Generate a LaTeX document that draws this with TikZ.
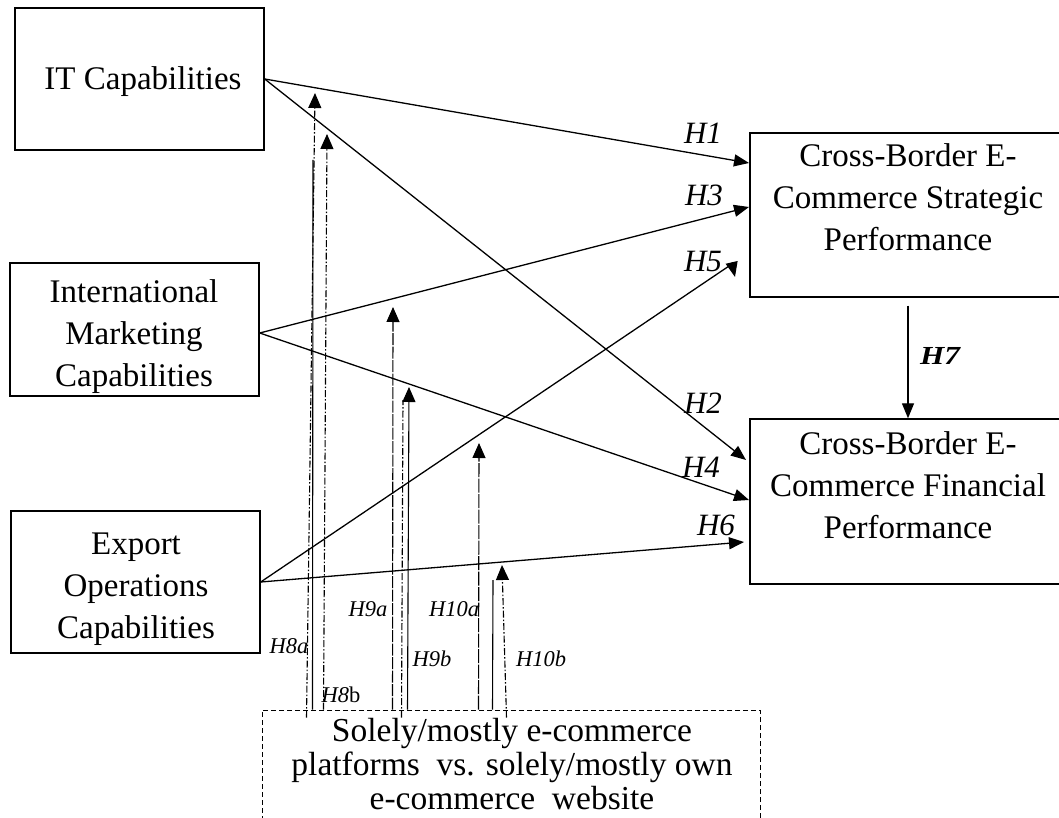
\documentclass[tikz,border=0pt]{standalone}
\usepackage{fontspec}
\setmainfont{Liberation Serif}
\usetikzlibrary{arrows.meta,calc}
\begin{document}
\begin{tikzpicture}[x=1pt,y=-1pt,
  box/.style={draw, line width=1.4pt, inner sep=0pt, minimum width=#1},
  modbox/.style={draw, line width=1pt, dash pattern=on 5pt off 3pt, inner sep=0pt},
  txt/.style={font=\fontsize{33}{42}\selectfont, align=center, inner sep=0pt},
  modtxt/.style={font=\fontsize{33.5}{34}\selectfont, align=center, inner sep=0pt},
  hyp/.style={font=\fontsize{31}{32}\selectfont\itshape, inner sep=0pt},
  mlab/.style={font=\fontsize{22.5}{24}\selectfont\itshape, inner sep=0pt},
  link/.style={line width=1.3pt, -{Triangle[length=15pt,width=12pt]}},
  dashdot/.style={line width=1.1pt, dash pattern=on 7pt off 2pt on 1.5pt off 2pt},
  thin line/.style={line width=1.1pt},
  modtip/.style={-{Triangle[length=15pt,width=13pt]}}
]
\clip (0,0) rectangle (1059,818);
\fill[white] (0,0) rectangle (1059,818);

% boxes
\node[box=249pt, minimum height=142pt] (itbox) at (139.5,79) {};
\node[box=249pt, minimum height=133pt] (imcbox) at (134.5,329.5) {};
\node[box=249pt, minimum height=142pt] (eocbox) at (135.5,582) {};
\node[box=316pt, minimum height=164pt] (strat) at (908,215) {};
\node[box=316pt, minimum height=165pt] (fin) at (908,501.5) {};
\node[modbox, minimum width=498pt, minimum height=130pt] (mod) at (511,775) {};

% box texts
\node[txt] (ittxt) at (143,82) {IT Capabilities};
\node[txt] (imctxt) at (134,337) {International\\Marketing\\Capabilities};
\node[txt] (eoctxt) at (136,589) {Export\\Operations\\Capabilities};
\node[txt] (strattxt) at (908,197) {Cross-Border E-\\Commerce Strategic\\Performance};
\node[txt] (fintxt) at (908,485) {Cross-Border E-\\Commerce Financial\\Performance};
\node[modtxt] (modt) at (512,764) {Solely/mostly e-commerce\\platforms\ \ vs. solely/mostly own\\e-commerce\ \ website};

% arrow end points
\coordinate (t1) at (749,163);
\coordinate (t2) at (746,460);
\coordinate (t3) at (749,207);
\coordinate (t4) at (749,500);
\coordinate (t5a) at (732,264);
\coordinate (t5) at (735,277);
\coordinate (t6) at (744,542);

% main paths
\draw[link] (itbox.east) -- (t1);
\draw[link] (itbox.east) -- (t2);
\draw[link] (imcbox.east |- 0,333) -- (t3);
\draw[link] (imcbox.east |- 0,333) -- (t4);
\draw[link] (eocbox.east) -- (t5a) -- (t5);
\draw[link] (eocbox.east) -- (t6);
\draw[line width=1.3pt, -{Triangle[length=15pt,width=12pt]}] ([yshift=-8pt]strat.south) -- (fin.north);

% hypothesis labels
\node[hyp] (h1) at (703,133) {H1};
\node[hyp] (h3) at (704,195) {H3};
\node[hyp] (h5) at (703,262) {H5};
\node[hyp] (h2) at (703,403) {H2};
\node[hyp] (h4) at (701,467) {H4};
\node[hyp] (h6) at (716,525) {H6};
\node[font=\fontsize{26}{28}\selectfont\bfseries\itshape, inner sep=0pt] (h7) at (940,356) {\scalebox{1.2}[1]{H7}};

% moderator end points
\coordinate (m8a) at (315,93);
\coordinate (m8s) at (313,160);
\coordinate (m8b) at (327,134);
\coordinate (m9a) at (393,307);
\coordinate (m9d) at (403,400);
\coordinate (m9b) at (409,387);
\coordinate (m10a) at (479,443);
\coordinate (m10s) at (493,580);
\coordinate (m10b) at (502,565);

% moderator lines
\draw[dashdot, modtip] ($(mod.north west)+(45,8)$) -- (m8a);
\draw[thin line] ($(mod.north west)+(51,0)$) -- (m8s);
\draw[dashdot, modtip] ($(mod.north west)+(62,0)$) -- (m8b);
\draw[thin line, dash pattern=on 12pt off 1.5pt, modtip] ($(mod.north west)+(131,0)$) -- (m9a);
\draw[dashdot] ($(mod.north west)+(140,8)$) -- (m9d);
\draw[thin line, modtip] ($(mod.north west)+(146,0)$) -- (m9b);
\draw[thin line, dash pattern=on 14pt off 1.5pt, modtip] ($(mod.north west)+(217,0)$) -- (m10a);
\draw[thin line] ($(mod.north west)+(231,0)$) -- (m10s);
\draw[dashdot, modtip] ($(mod.north west)+(245,8)$) -- (m10b);

% moderator labels
\node[mlab] (l8a) at (289,646) {H8a};
\node[mlab] (l8b) at (341,695) {H8\upshape b};
\node[mlab] (l9a) at (368,609) {H9a};
\node[mlab] (l9b) at (432,659) {H9b};
\node[mlab] (l10a) at (454,609) {H10a};
\node[mlab] (l10b) at (541,659) {H10b};
\end{tikzpicture}
\end{document}
